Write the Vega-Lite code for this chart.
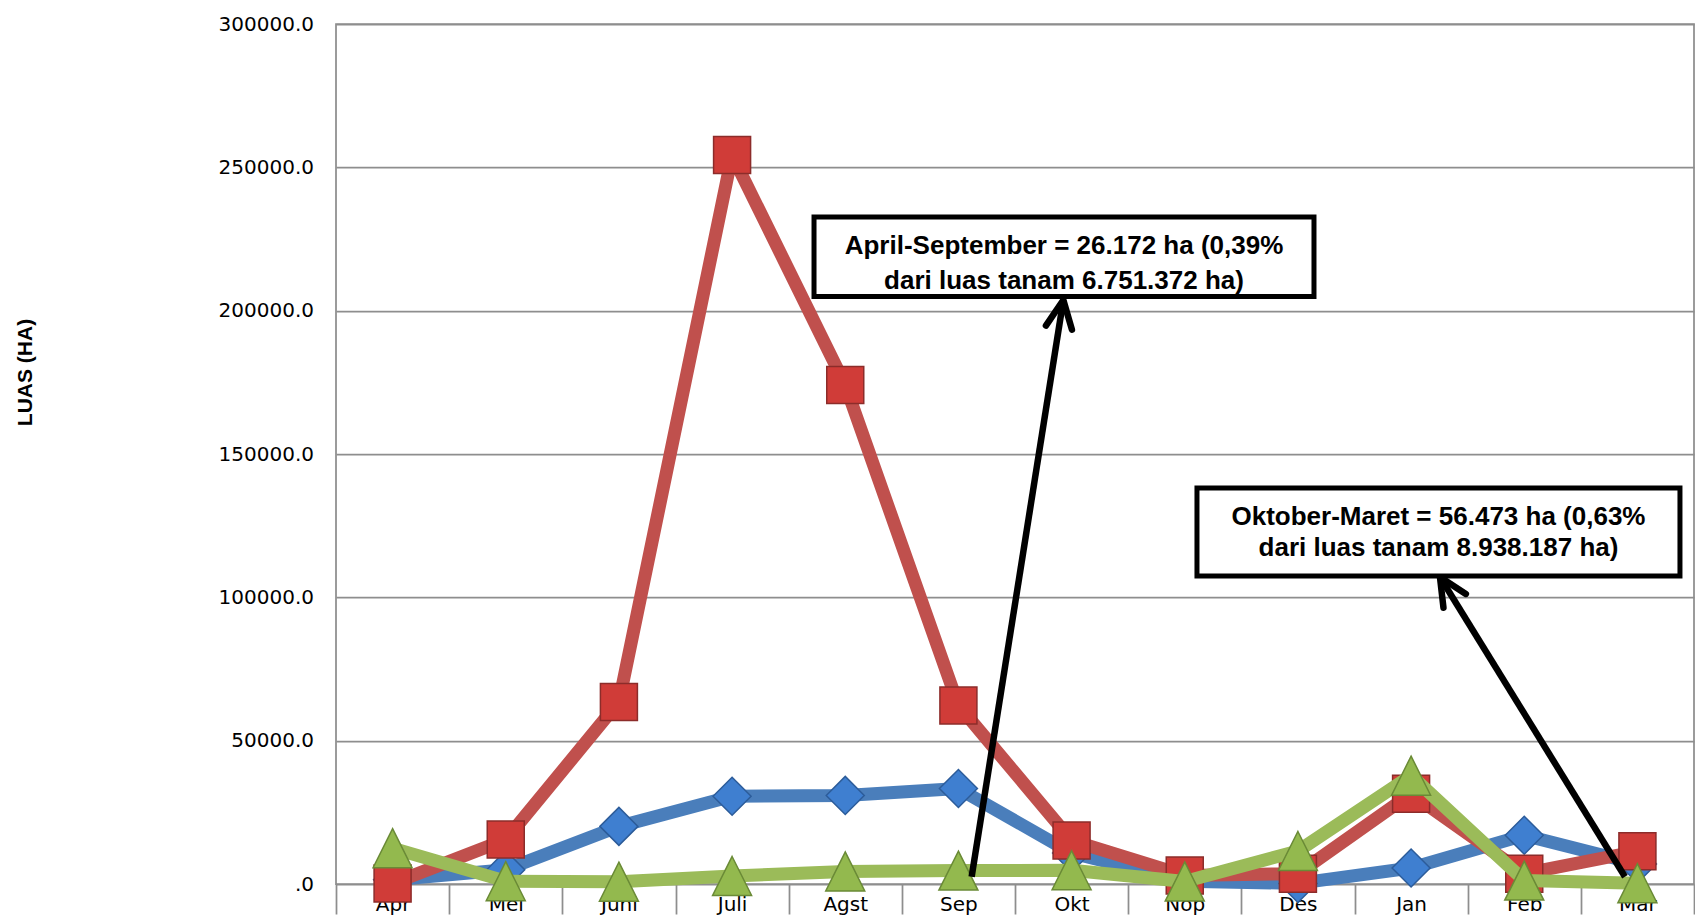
{
  "$schema": "https://vega.github.io/schema/vega-lite/v6.json",
  "width": 1358,
  "height": 860,
  "autosize": {"type": "none"},
  "padding": {"left": 336, "top": 24, "right": 1, "bottom": 31},
  "background": "white",
  "config": {
    "view": {"stroke": "#8E8E8E", "strokeWidth": 1.75},
    "axisY": {
      "grid": true,
      "gridColor": "#8E8E8E",
      "gridWidth": 1.75,
      "domain": false,
      "ticks": false,
      "labelFont": "DejaVu Sans",
      "labelFontSize": 20,
      "labelColor": "#000000",
      "labelPadding": 22.5,
      "titleFont": "Liberation Sans",
      "titleFontWeight": "bold",
      "titleFontSize": 21,
      "titleColor": "#000000",
      "titleAngle": 270,
      "titleX": -311,
      "titleY": 348,
      "titleAlign": "center",
      "titleBaseline": "middle"
    }
  },
  "datasets": {
    "series": [
      {"s": "Seri 1", "m": "Apr", "v": 1500},
      {"s": "Seri 1", "m": "Mei", "v": 5000},
      {"s": "Seri 1", "m": "Juni", "v": 20100},
      {"s": "Seri 1", "m": "Juli", "v": 30600},
      {"s": "Seri 1", "m": "Agst", "v": 30900},
      {"s": "Seri 1", "m": "Sep", "v": 33300},
      {"s": "Seri 1", "m": "Okt", "v": 10800},
      {"s": "Seri 1", "m": "Nop", "v": 1000},
      {"s": "Seri 1", "m": "Des", "v": 200},
      {"s": "Seri 1", "m": "Jan", "v": 5600},
      {"s": "Seri 1", "m": "Feb", "v": 17000},
      {"s": "Seri 1", "m": "Mar", "v": 7000},
      {"s": "Seri 2", "m": "Apr", "v": 200},
      {"s": "Seri 2", "m": "Mei", "v": 15500},
      {"s": "Seri 2", "m": "Juni", "v": 63500},
      {"s": "Seri 2", "m": "Juli", "v": 254300},
      {"s": "Seri 2", "m": "Agst", "v": 174100},
      {"s": "Seri 2", "m": "Sep", "v": 62300},
      {"s": "Seri 2", "m": "Okt", "v": 15200},
      {"s": "Seri 2", "m": "Nop", "v": 3000},
      {"s": "Seri 2", "m": "Des", "v": 3600},
      {"s": "Seri 2", "m": "Jan", "v": 31500},
      {"s": "Seri 2", "m": "Feb", "v": 3600},
      {"s": "Seri 2", "m": "Mar", "v": 11400},
      {"s": "Seri 3", "m": "Apr", "v": 12500},
      {"s": "Seri 3", "m": "Mei", "v": 1000},
      {"s": "Seri 3", "m": "Juni", "v": 800},
      {"s": "Seri 3", "m": "Juli", "v": 2800},
      {"s": "Seri 3", "m": "Agst", "v": 4400},
      {"s": "Seri 3", "m": "Sep", "v": 4672},
      {"s": "Seri 3", "m": "Okt", "v": 4800},
      {"s": "Seri 3", "m": "Nop", "v": 900},
      {"s": "Seri 3", "m": "Des", "v": 11500},
      {"s": "Seri 3", "m": "Jan", "v": 37800},
      {"s": "Seri 3", "m": "Feb", "v": 1200},
      {"s": "Seri 3", "m": "Mar", "v": 273}
    ],
    "boxes": [
      {"x1": 4.224, "x2": 8.642, "y1": 232674, "y2": 204942},
      {"x1": 7.608, "x2": 11.876, "y1": 138140, "y2": 107442}
    ],
    "notes": [
      {"x": 6.433, "y": 222384, "t": "April-September = 26.172 ha (0,39%"},
      {"x": 6.433, "y": 210349, "t": "dari luas tanam 6.751.372 ha)"},
      {"x": 9.742, "y": 128128, "t": "Oktober-Maret = 56.473 ha (0,63%"},
      {"x": 9.742, "y": 117105, "t": "dari luas tanam 8.938.187 ha)"}
    ],
    "arrows": [
      {"id": 1, "x1": 5.617, "y1": 2547, "x2": 6.427, "y2": 203721},
      {"id": 2, "x1": 11.39, "y1": 2547, "x2": 9.755, "y2": 107093}
    ]
  },
  "layer": [
    {
      "data": {"name": "series"},
      "encoding": {
        "x": {
          "field": "m",
          "type": "nominal",
          "sort": ["Apr", "Mei", "Juni", "Juli", "Agst", "Sep", "Okt", "Nop", "Des", "Jan", "Feb", "Mar"],
          "scale": {"type": "band", "paddingInner": 0, "paddingOuter": 0},
          "axis": {
            "title": null,
            "labelAngle": 0,
            "grid": false,
            "domain": false,
            "ticks": true,
            "tickBand": "extent",
            "tickSize": 30,
            "tickColor": "#8E8E8E",
            "tickWidth": 1.75,
            "labelFont": "DejaVu Sans",
            "labelFontSize": 20,
            "labelColor": "#000000",
            "labelBaseline": "alphabetic",
            "labelPadding": -4
          }
        },
        "y": {
          "field": "v",
          "type": "quantitative",
          "title": "LUAS (HA)",
          "scale": {"domain": [0, 300000], "nice": false},
          "axis": {
            "values": [0, 50000, 100000, 150000, 200000, 250000, 300000],
            "labelExpr": "datum.value === 0 ? '.0' : format(datum.value, '.1f')"
          }
        }
      },
      "layer": [
        {
          "transform": [{"filter": "datum.s === 'Seri 1'"}],
          "mark": {"type": "line", "color": "#4A7EBB", "strokeWidth": 13, "strokeJoin": "round"},
          "encoding": {"order": {"value": null}}
        },
        {
          "transform": [{"filter": "datum.s === 'Seri 1'"}],
          "mark": {"type": "point", "shape": "diamond", "filled": true, "fill": "#3F7FD0", "stroke": "#2C5C9A", "strokeWidth": 1.5, "size": 1444, "opacity": 1}
        },
        {
          "transform": [{"filter": "datum.s === 'Seri 2'"}],
          "mark": {"type": "line", "color": "#C0504D", "strokeWidth": 13, "strokeJoin": "round"},
          "encoding": {"order": {"value": null}}
        },
        {
          "transform": [{"filter": "datum.s === 'Seri 2'"}],
          "mark": {"type": "point", "shape": "square", "filled": true, "fill": "#D03C38", "stroke": "#8C2C2A", "strokeWidth": 1.5, "size": 1369, "opacity": 1}
        },
        {
          "transform": [{"filter": "datum.s === 'Seri 3'"}],
          "mark": {"type": "line", "color": "#9BBB59", "strokeWidth": 13, "strokeJoin": "round"},
          "encoding": {"order": {"value": null}}
        },
        {
          "transform": [{"filter": "datum.s === 'Seri 3'"}],
          "mark": {"type": "point", "shape": "M 0 -1 L 1 1 L -1 1 Z", "filled": true, "fill": "#93B94E", "stroke": "#6A8A36", "strokeWidth": 1.5, "size": 1521, "opacity": 1}
        }
      ]
    },
    {
      "layer": [
        {
          "data": {"name": "arrows"},
          "mark": {"type": "rule", "color": "#000000", "strokeWidth": 6.5},
          "encoding": {
            "x": {"field": "x1", "type": "quantitative", "scale": {"domain": [0, 12], "nice": false, "zero": false}, "axis": null},
            "x2": {"field": "x2"},
            "y": {"field": "y1", "type": "quantitative", "title": "LUAS (HA)", "scale": {"domain": [0, 300000], "nice": false}},
            "y2": {"field": "y2"}
          }
        },
        {
          "data": {"name": "arrows"},
          "transform": [{"filter": "datum.id === 1"}],
          "mark": {"type": "point", "shape": "M -0.47 1 L 0 0 L 0.47 1", "filled": false, "color": "#000000", "strokeWidth": 6.5, "size": 3136, "angle": 9, "strokeCap": "round", "strokeJoin": "round", "opacity": 1},
          "encoding": {
            "x": {"field": "x2", "type": "quantitative", "axis": null},
            "y": {"field": "y2", "type": "quantitative", "title": "LUAS (HA)"}
          }
        },
        {
          "data": {"name": "arrows"},
          "transform": [{"filter": "datum.id === 2"}],
          "mark": {"type": "point", "shape": "M -0.47 1 L 0 0 L 0.47 1", "filled": false, "color": "#000000", "strokeWidth": 6.5, "size": 3136, "angle": 328.3, "strokeCap": "round", "strokeJoin": "round", "opacity": 1},
          "encoding": {
            "x": {"field": "x2", "type": "quantitative", "axis": null},
            "y": {"field": "y2", "type": "quantitative", "title": "LUAS (HA)"}
          }
        },
        {
          "data": {"name": "boxes"},
          "mark": {"type": "rect", "fill": "#FFFFFF", "stroke": "#000000", "strokeWidth": 5},
          "encoding": {
            "x": {"field": "x1", "type": "quantitative", "axis": null},
            "x2": {"field": "x2"},
            "y": {"field": "y1", "type": "quantitative", "title": "LUAS (HA)"},
            "y2": {"field": "y2"}
          }
        },
        {
          "data": {"name": "notes"},
          "mark": {"type": "text", "font": "Liberation Sans", "fontWeight": "bold", "fontSize": 26, "align": "center", "baseline": "middle", "color": "#000000"},
          "encoding": {
            "x": {"field": "x", "type": "quantitative", "axis": null},
            "y": {"field": "y", "type": "quantitative", "title": "LUAS (HA)"},
            "text": {"field": "t"}
          }
        }
      ]
    }
  ],
  "resolve": {"scale": {"x": "independent"}}
}
